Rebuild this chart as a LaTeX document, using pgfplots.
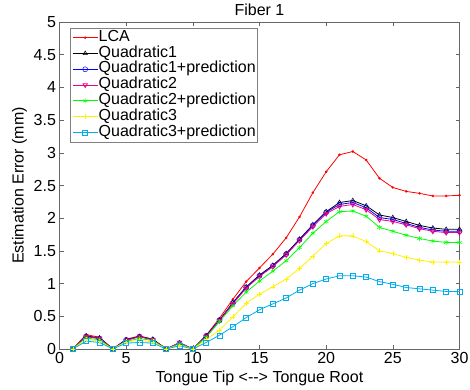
\documentclass[border=0pt]{standalone}
\usepackage{fontspec}
\setmainfont{Liberation Sans}
\usepackage{pgfplots}
\usepackage{pgfplotstable}
\pgfplotsset{compat=1.18}
\pgfplotstableread{
x  lca  qa   qap  qb   qbp  qc   qcp
1  0    0    0    0    0    0    0
2  0.22 0.20 0.19 0.19 0.17 0.15 0.12
3  0.18 0.17 0.16 0.16 0.14 0.12 0.10
4  0    0    0    0    0    0    0
5  0.15 0.14 0.14 0.13 0.12 0.11 0.09
6  0.20 0.19 0.19 0.19 0.16 0.13 0.10
7  0.15 0.15 0.14 0.14 0.13 0.11 0.09
8  0    0    0    0    0    0    0
9  0.09 0.09 0.09 0.10 0.08 0.06 0.05
10 0    0    0    0    0    0    0
11 0.21 0.20 0.20 0.19 0.18 0.14 0.10
12 0.47 0.44 0.44 0.43 0.42 0.29 0.21
13 0.76 0.71 0.70 0.69 0.66 0.49 0.34
14 1.03 0.95 0.94 0.93 0.87 0.70 0.48
15 1.24 1.13 1.12 1.11 1.04 0.84 0.60
16 1.45 1.28 1.27 1.26 1.19 0.95 0.69
17 1.70 1.46 1.45 1.44 1.35 1.07 0.78
18 2.02 1.68 1.67 1.66 1.55 1.23 0.90
19 2.39 1.90 1.89 1.87 1.77 1.42 1.00
20 2.71 2.10 2.09 2.07 1.95 1.61 1.07
21 2.97 2.24 2.21 2.18 2.10 1.73 1.12
22 3.02 2.27 2.24 2.21 2.11 1.73 1.12
23 2.89 2.19 2.16 2.13 2.03 1.64 1.10
24 2.61 2.05 2.01 1.98 1.86 1.50 1.03
25 2.47 2.01 1.98 1.95 1.80 1.46 0.99
26 2.41 1.95 1.92 1.90 1.74 1.40 0.94
27 2.38 1.89 1.86 1.84 1.69 1.36 0.92
28 2.34 1.85 1.82 1.80 1.65 1.33 0.90
29 2.34 1.83 1.80 1.78 1.63 1.33 0.88
30 2.35 1.83 1.80 1.78 1.63 1.33 0.88
}\datatable
\begin{document}
\begin{tikzpicture}
\begin{axis}[
  at={(0,0)}, anchor=south west,
  scale only axis, width=400pt, height=327pt,
  xmin=0, xmax=30, ymin=0, ymax=5,
  xtick={0,5,...,30}, ytick={0,0.5,...,5},
  tick align=inside, tickpos=both, major tick length=4pt,
  axis line style={gray!80!black, line width=0.6pt},
  every tick/.style={gray!80!black, line width=0.6pt},
  /pgf/number format/assume math mode=true,
  /pgf/number format/fixed,
  tick label style={font=\fontsize{16}{18}\selectfont},
  label style={font=\fontsize{16}{18}\selectfont},
  title style={font=\fontsize{16}{18}\selectfont, yshift=-3pt},
  title={Fiber 1},
  xlabel={Tongue Tip <-{}-> Tongue Root},
  ylabel={Estimation Error (mm)},
  legend cell align=left,
  legend style={at={(0.0275,0.9817)}, anchor=north west, draw=gray, line width=0.6pt,
    font=\fontsize{16}{16}\selectfont, inner sep=1.5pt, row sep=0pt,
    nodes={inner sep=0.6pt, text height=11pt, text depth=3.6pt}},
  legend image code/.code={\draw[#1, mark repeat=2, mark phase=2] plot coordinates {(0pt,0pt) (12.5pt,0pt) (25pt,0pt)};},
  every axis plot/.append style={line width=0.8pt, mark size=2.5pt, mark options={solid, line width=0.5pt}},
]
\addplot[red, mark=*, mark size=1pt] table[x=x,y=lca] {\datatable};
\addlegendentry{LCA}
\addplot[black, mark=triangle] table[x=x,y=qa] {\datatable};
\addlegendentry{Quadratic1}
\addplot[blue, mark=o] table[x=x,y=qap] {\datatable};
\addlegendentry{Quadratic1+prediction}
\addplot[magenta, mark=triangle, mark options={rotate=180}] table[x=x,y=qb] {\datatable};
\addlegendentry{Quadratic2}
\addplot[green, mark=asterisk] table[x=x,y=qbp] {\datatable};
\addlegendentry{Quadratic2+prediction}
\addplot[yellow, mark=+] table[x=x,y=qc] {\datatable};
\addlegendentry{Quadratic3}
\addplot[cyan, mark=square] table[x=x,y=qcp] {\datatable};
\addlegendentry{Quadratic3+prediction}
\end{axis}
\pgfresetboundingbox
\path[use as bounding box] (-59.5pt,-40pt) rectangle (410.5pt,349pt);
\end{tikzpicture}
\end{document}
